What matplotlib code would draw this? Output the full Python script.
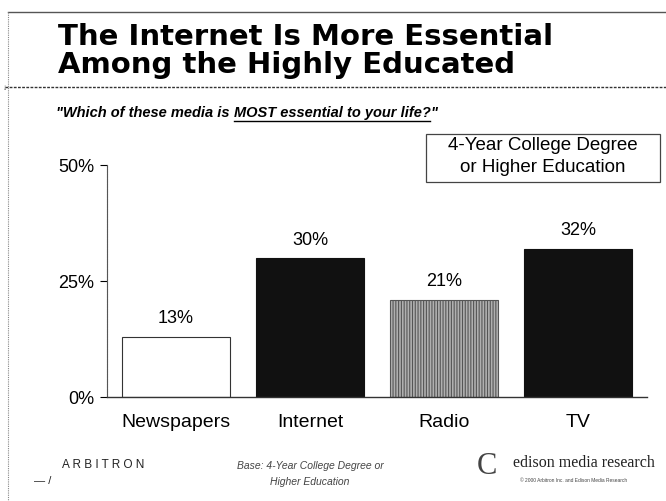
import matplotlib
matplotlib.use('Agg')
import matplotlib.pyplot as plt
from matplotlib.lines import Line2D
from matplotlib.patches import Rectangle

# data
media = ['Newspapers', 'Internet', 'Radio', 'TV']
share = [13, 30, 21, 32]
yticks = [0, 25, 50]
ytick_labels = ['0%', '25%', '50%']

bar_face = ['white', '#111111', '#b0b0b0', '#111111']
bar_edge = ['#333333', '#111111', '#555555', '#111111']
bar_hatch = [None, None, '||||||', None]

plt.rcParams['font.family'] = ['Liberation Sans', 'DejaVu Sans']
plt.rcParams['hatch.color'] = '#666666'
plt.rcParams['hatch.linewidth'] = 0.8

W, H = 666, 501
fig = plt.figure(figsize=(W / 100, H / 100), dpi=100)
fig.patch.set_facecolor('white')

def fx(px):
    return px / W

def fy(py):
    return 1 - py / H

# frame lines of the slide
fig.add_artist(Line2D([fx(8), fx(666)], [fy(12), fy(12)], color='#555555', lw=1.0))
fig.add_artist(Line2D([fx(8), fx(8)], [fy(12), fy(501)], color='#888888', lw=0.8, ls=(0, (1, 1))))
fig.add_artist(Line2D([fx(5), fx(666)], [fy(87), fy(87)], color='#333333', lw=1.0, ls=(0, (2, 1))))
fig.text(fx(3), fy(89), '\u2193', fontsize=6, ha='left', va='center', color='#333333')

# title
fig.text(fx(58), fy(37), 'The Internet Is More Essential', fontsize=21, fontweight='bold',
         family='DejaVu Sans', ha='left', va='center')
fig.text(fx(58), fy(65), 'Among the Highly Educated', fontsize=21, fontweight='bold',
         family='DejaVu Sans', ha='left', va='center')

# subtitle with underlined part
sub_fs = 10.5
t1 = fig.text(fx(56), fy(113), '"Which of these media is ', fontsize=sub_fs, fontweight='bold',
              style='italic', ha='left', va='center')
fig.canvas.draw()
r = fig.canvas.get_renderer()
bb = t1.get_window_extent(r)
t2 = fig.text(bb.x1 / W, fy(113), 'MOST essential to your life?', fontsize=sub_fs, fontweight='bold',
              style='italic', ha='left', va='center')
bb2 = t2.get_window_extent(r)
fig.add_artist(Line2D([bb2.x0 / W, bb2.x1 / W], [fy(121), fy(121)], color='black', lw=1.0))
fig.text(bb2.x1 / W, fy(113), '"', fontsize=sub_fs, fontweight='bold', style='italic', ha='left', va='center')

# chart axes
ax = fig.add_axes([fx(107), fy(397), fx(647) - fx(107), fy(165) - fy(397)])
ax.set_facecolor('white')
pos = list(range(len(media)))
bars = ax.bar(pos, share, width=0.806, color=bar_face, edgecolor=bar_edge, linewidth=0.8)
for b, h in zip(bars, bar_hatch):
    if h:
        b.set_hatch(h)
for p, v in zip(pos, share):
    ax.text(p, v + 2.0, f'{v}%', ha='center', va='bottom', fontsize=13)

ax.set_xlim(-0.515, 3.515)
ax.set_ylim(0, 50)
ax.set_yticks(yticks)
ax.set_yticklabels(ytick_labels, fontsize=13)
ax.set_xticks(pos)
ax.set_xticklabels(media, fontsize=14)
ax.tick_params(axis='x', length=0, pad=12)
ax.tick_params(axis='y', length=5, width=0.8, direction='out', pad=4)
for s in ['top', 'right']:
    ax.spines[s].set_visible(False)
ax.spines['left'].set_color('#555555')
ax.spines['left'].set_linestyle((0, (1, 0.5)))
ax.spines['bottom'].set_color('#333333')
ax.spines['left'].set_linewidth(0.8)
ax.spines['bottom'].set_linewidth(1.0)

# legend box
fig.add_artist(Rectangle((fx(426), fy(182)), fx(660) - fx(426), fy(134) - fy(182),
                         facecolor='white', edgecolor='#444444', linewidth=0.9))
fig.text(fx(543), fy(146), '4-Year College Degree', fontsize=13.5, ha='center', va='center')
fig.text(fx(543), fy(168), 'or Higher Education', fontsize=13.5, ha='center', va='center')

# footer
fig.text(fx(62), fy(465), 'A R B I T R O N', fontsize=8.5, ha='left', va='center', color='#222222')
fig.text(fx(34), fy(481), '\u2014 /', fontsize=8, ha='left', va='center', color='#222222')
fig.text(fx(310), fy(466), 'Base: 4-Year College Degree or', fontsize=7.5, style='italic', ha='center',
         va='center', color='#444444')
fig.text(fx(310), fy(482), 'Higher Education', fontsize=7.5, style='italic', ha='center', va='center',
         color='#444444')
fig.text(fx(487), fy(466), 'C', fontsize=22, family='Liberation Serif', ha='center', va='center', color='#444444')
fig.text(fx(513), fy(463), 'edison media research', fontsize=11.5, family='Liberation Serif', ha='left',
         va='center', color='#222222')
fig.text(fx(520), fy(481), '\u00a9 2000 Arbitron Inc. and Edison Media Research', fontsize=3.5, ha='left',
         va='center', color='#444444')

fig.savefig('out.png', dpi=100)
